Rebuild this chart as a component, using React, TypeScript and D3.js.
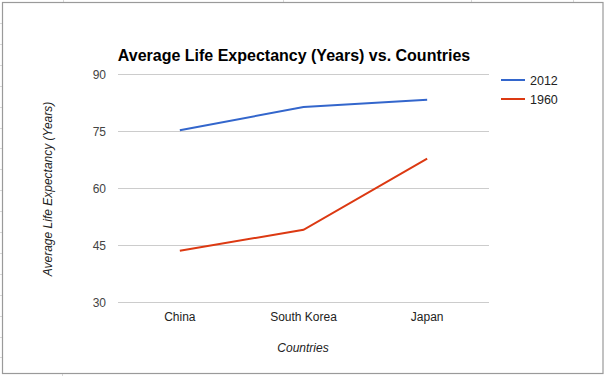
import React, { useEffect, useRef } from "react";
import * as d3 from "d3";

const countries = ["China", "South Korea", "Japan"];
const life2012 = [75.2, 81.3, 83.2];
const life1960 = [43.5, 49.0, 67.7];
const yTicks = [30, 45, 60, 75, 90];
const seriesNames = ["2012", "1960"];
const seriesColors = ["#3366cc", "#dc3912"];

const W = 604;
const H = 376;

export default function App() {
  const ref = useRef<SVGSVGElement>(null);

  useEffect(() => {
    const svg = d3.select(ref.current);
    svg.selectAll("*").remove();
    const font = "'Liberation Sans', Arial, sans-serif";

    // spreadsheet background gridline stubs
    const stub = svg.append("g").attr("stroke", "#d9d9d9").attr("stroke-width", 1);
    [63, 283, 471, 573].forEach((x) => {
      stub.append("line").attr("x1", x + 0.5).attr("x2", x + 0.5).attr("y1", 0).attr("y2", 2);
    });
    for (let k = 0; k < 17; k++) {
      const y = Math.round(23 + k * 20.9) + 0.5;
      stub.append("line").attr("x1", 0).attr("x2", 2).attr("y1", y).attr("y2", y);
    }
    stub.append("line").attr("x1", 62.5).attr("x2", 62.5).attr("y1", 374).attr("y2", 376);

    // frame
    svg
      .append("rect")
      .attr("x", 2.5)
      .attr("y", 2.5)
      .attr("width", 600.5)
      .attr("height", 371)
      .attr("fill", "#fff")
      .attr("stroke", "#9a9a9a")
      .attr("stroke-width", 1.2);

    const left = 118;
    const right = 489;
    const top = 74;
    const bottom = 302;

    const x = d3.scalePoint<string>().domain(countries).range([left, right]).padding(0.5);
    const y = d3.scaleLinear().domain([30, 90]).range([bottom, top]);

    // title
    svg
      .append("text")
      .attr("x", 294)
      .attr("y", 61)
      .attr("text-anchor", "middle")
      .attr("font-family", font)
      .attr("font-weight", "bold")
      .attr("font-size", 16)
      .attr("fill", "#000")
      .text("Average Life Expectancy (Years) vs. Countries");

    // gridlines
    const grid = svg.append("g");
    yTicks.forEach((t) => {
      grid
        .append("line")
        .attr("x1", left)
        .attr("x2", right)
        .attr("y1", Math.round(y(t)) + 0.5)
        .attr("y2", Math.round(y(t)) + 0.5)
        .attr("stroke", "#cccccc")
        .attr("stroke-width", 1);
      grid
        .append("text")
        .attr("x", 106)
        .attr("y", y(t) + 4.5)
        .attr("text-anchor", "end")
        .attr("font-family", font)
        .attr("font-size", 12)
        .attr("fill", "#444")
        .text(String(t));
    });

    // x labels
    countries.forEach((c) => {
      svg
        .append("text")
        .attr("x", x(c)!)
        .attr("y", 320.5)
        .attr("text-anchor", "middle")
        .attr("font-family", font)
        .attr("font-size", 12)
        .attr("fill", "#222")
        .text(c);
    });

    // axis titles
    svg
      .append("text")
      .attr("x", 303)
      .attr("y", 352)
      .attr("text-anchor", "middle")
      .attr("font-family", font)
      .attr("font-style", "italic")
      .attr("font-size", 12)
      .attr("fill", "#222")
      .text("Countries");
    svg
      .append("text")
      .attr("transform", "translate(52,189) rotate(-90)")
      .attr("text-anchor", "middle")
      .attr("font-family", font)
      .attr("font-style", "italic")
      .attr("font-size", 12)
      .attr("fill", "#222")
      .text("Average Life Expectancy (Years)");

    // lines
    const line = d3
      .line<number>()
      .x((_, i) => x(countries[i])!)
      .y((d) => y(d));
    [life2012, life1960].forEach((vals, i) => {
      svg
        .append("path")
        .attr("d", line(vals)!)
        .attr("fill", "none")
        .attr("stroke", seriesColors[i])
        .attr("stroke-width", 2);
    });

    // legend
    seriesNames.forEach((name, i) => {
      const ly = 80 + i * 19;
      svg
        .append("line")
        .attr("x1", 501)
        .attr("x2", 525)
        .attr("y1", ly)
        .attr("y2", ly)
        .attr("stroke", seriesColors[i])
        .attr("stroke-width", 2);
      svg
        .append("text")
        .attr("x", 530)
        .attr("y", ly + 4.5)
        .attr("font-family", font)
        .attr("font-size", 12.5)
        .attr("fill", "#222")
        .text(name);
    });
  }, []);

  return (
    <svg
      ref={ref}
      width={W}
      height={H}
      style={{ position: "absolute", left: 0, top: 0, background: "#fff" }}
    />
  );
}
